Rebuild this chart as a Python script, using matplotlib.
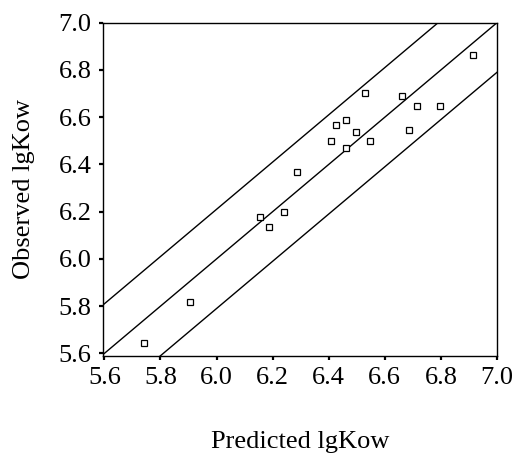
import numpy as np
import matplotlib
matplotlib.use("Agg")
import matplotlib.pyplot as plt

plt.rcParams['font.family'] = ['Liberation Serif', 'DejaVu Serif']

predicted = [5.742, 5.906, 6.156, 6.188, 6.240, 6.286, 6.409, 6.426, 6.463, 6.460,
             6.498, 6.528, 6.546, 6.662, 6.685, 6.715, 6.798, 6.916]
observed = [5.642, 5.816, 6.177, 6.135, 6.198, 6.366, 6.500, 6.567, 6.587, 6.469,
            6.536, 6.701, 6.500, 6.691, 6.547, 6.649, 6.649, 6.863]
band_offsets = [0.21, 0.0, -0.21]
ticks = [5.6, 5.8, 6.0, 6.2, 6.4, 6.6, 6.8, 7.0]
tick_labels = ["5.6", "5.8", "6.0", "6.2", "6.4", "6.6", "6.8", "7.0"]

fig = plt.figure(figsize=(5.17, 4.53), dpi=100)
ax = fig.add_axes([0.1986, 0.2141, 0.9613 - 0.1986, 0.9499 - 0.2141])

xline = np.array([5.4, 7.2])
for off in band_offsets:
    ax.plot(xline, xline + off, color='black', lw=1.0)

ax.plot(predicted, observed, linestyle='none', marker='s', markersize=4.0,
        markerfacecolor='white', markeredgecolor='black', markeredgewidth=0.9)

ax.set_xlim(5.594, 7.0)
ax.set_ylim(5.589, 7.0)
ax.set_xticks(ticks)
ax.set_xticklabels(tick_labels)
ax.set_yticks(ticks)
ax.set_yticklabels(tick_labels)
ax.tick_params(direction='out', length=3, width=1.6, labelsize=19, pad=5, colors='black')
for s in ax.spines.values():
    s.set_linewidth(1.0)
    s.set_color('black')

ax.set_xlabel("Predicted lgKow", fontsize=19, va='center')
ax.xaxis.set_label_coords(0.5, -86 / 333.3)
ax.set_ylabel("Observed lgKow", fontsize=19, va='center')
ax.yaxis.set_label_coords(-78.7 / 394.3, 0.5)

fig.savefig("out.png", dpi=100)
